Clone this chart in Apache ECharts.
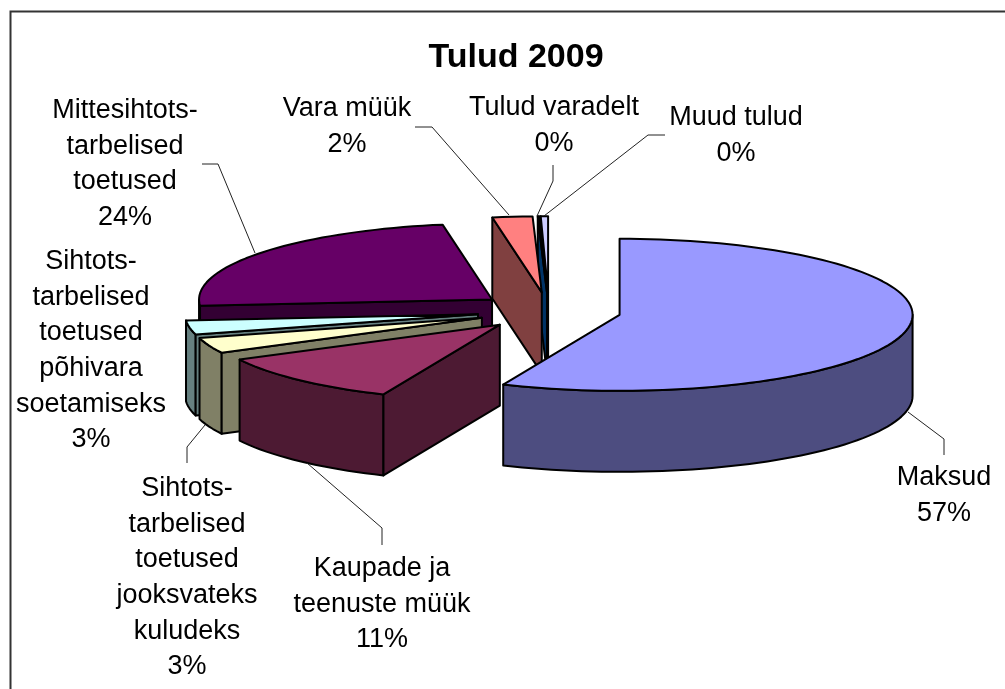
<!DOCTYPE html>
<html>
<head>
<meta charset="utf-8">
<title>Tulud 2009</title>
<style>
  html, body { margin: 0; padding: 0; background: #fff; }
  #chart { width: 1005px; height: 689px; }
</style>
<script src="https://cdn.jsdelivr.net/npm/echarts@6/dist/echarts.min.js"></script>
</head>
<body>
<div id="chart"></div>
<script>
// values, % of the total
let categories = [
  "Maksud",
  "Kaupade ja\nteenuste müük",
  "Sihtots-\ntarbelised\ntoetused\njooksvateks\nkuludeks",
  "Sihtots-\ntarbelised\ntoetused\npõhivara\nsoetamiseks",
  "Mittesihtots-\ntarbelised\ntoetused",
  "Vara müük",
  "Tulud varadelt",
  "Muud tulud"
];
let values = [56.5, 10.9, 3.3, 3.0, 23.6, 2.2, 0.1, 0.4];
let topColors = ["#9999ff", "#993366", "#ffffcc", "#ccffff", "#660066", "#ff8080", "#0066cc", "#ccccff"];
let sideColors = ["#4d4d80", "#4d1a33", "#808066", "#668080", "#330033", "#804040", "#003366", "#666680"];

// label centre + first line y, then the leader line
let labelX = [944, 382, 187, 91, 125, 347, 554, 736];
let labelY = [476, 567, 487, 260, 109, 107, 106, 116];
let leaders = [
  [[908, 412], [944, 439], [944, 455]],
  [[307, 463], [382, 528], [382, 545]],
  [[205, 425], [187, 447], [187, 463]],
  [],
  [[202, 164], [218, 164], [255, 253]],
  [[415, 127], [432, 127], [509, 215]],
  [[553, 165], [553, 181], [537, 216]],
  [[665, 135], [648, 135], [544, 216]]
];

// the tilted pie
let pieX = 549, pieY = 311, radX = 293, radY = 76, depth = 81, explode = 0.246;

let total = values.reduce(function(a, b) { return a + b; }, 0);
let slices = [];
let acc = 0;
values.forEach(function(v, i) {
  let start = (acc / total) * 360;
  acc += v;
  let end = (acc / total) * 360;
  let mid = ((start + end) / 2) * Math.PI / 180;
  slices.push({
    index: i,
    start: start,
    end: end,
    cx: pieX + Math.sin(mid) * explode * radX,
    cy: pieY - Math.cos(mid) * explode * radY
  });
});

// back slices get painted first
let drawOrder = slices.slice().sort(function(a, b) { return a.cy - b.cy; });

function rimPoint(s, deg, drop) {
  let r = deg * Math.PI / 180;
  return [s.cx + Math.sin(r) * radX, s.cy - Math.cos(r) * radY + drop];
}

function arcPoints(s, from, to, drop) {
  let pts = [];
  let steps = Math.max(1, Math.ceil((to - from) / 2));
  for (let k = 0; k <= steps; k++) {
    pts.push(rimPoint(s, from + ((to - from) * k) / steps, drop));
  }
  return pts;
}

function face(points, color) {
  return {
    type: "polygon",
    shape: { points: points },
    style: { fill: color, stroke: "#000", lineWidth: 2, lineJoin: "round" }
  };
}

function renderSlice(params, api) {
  let s = slices[api.value(0)];
  let side = sideColors[s.index];
  let children = [];

  // rim is only seen on the front half
  let wallFrom = Math.max(s.start, 90);
  let wallTo = Math.min(s.end, 270);
  if (wallTo > wallFrom) {
    let upper = arcPoints(s, wallFrom, wallTo, 0);
    let lower = arcPoints(s, wallFrom, wallTo, depth).reverse();
    children.push(face(upper.concat(lower), side));
  }

  // cut faces
  if (Math.sin(s.start * Math.PI / 180) < -1e-6) {
    let p = rimPoint(s, s.start, 0);
    children.push(face([[s.cx, s.cy], p, [p[0], p[1] + depth], [s.cx, s.cy + depth]], side));
  }
  if (Math.sin(s.end * Math.PI / 180) > 1e-6) {
    let q = rimPoint(s, s.end, 0);
    children.push(face([[s.cx, s.cy], q, [q[0], q[1] + depth], [s.cx, s.cy + depth]], side));
  }

  children.push(face([[s.cx, s.cy]].concat(arcPoints(s, s.start, s.end, 0)), topColors[s.index]));
  return { type: "group", children: children };
}

function renderLabel(params, api) {
  let i = api.value(0);
  let children = [];
  if (leaders[i].length) {
    children.push({
      type: "polyline",
      shape: { points: leaders[i] },
      style: { fill: "none", stroke: "#222", lineWidth: 1 }
    });
  }
  children.push({
    type: "text",
    style: {
      text: categories[i] + "\n" + Math.round((values[i] / total) * 100 + 1e-9) + "%",
      x: labelX[i],
      y: labelY[i] - 16,
      fill: "#000",
      font: '27px "Liberation Sans", Arial, sans-serif',
      lineHeight: 35.6,
      align: "center",
      verticalAlign: "top"
    }
  });
  return { type: "group", children: children };
}

let chart = echarts.init(document.getElementById("chart"), null, { renderer: "canvas" });
chart.setOption({
  animation: false,
  backgroundColor: "#fff",
  title: {
    text: "Tulud 2009",
    left: 511,
    top: 36,
    textAlign: "center",
    textStyle: {
      fontFamily: '"Liberation Sans", Arial, sans-serif',
      fontSize: 34,
      fontWeight: "bold",
      color: "#000"
    }
  },
  graphic: [
    {
      type: "polyline",
      shape: { points: [[10.5, 689], [10.5, 11.5], [1005, 11.5]] },
      style: { fill: "none", stroke: "#333", lineWidth: 2 }
    }
  ],
  series: [
    {
      type: "custom",
      coordinateSystem: "none",
      renderItem: renderSlice,
      data: drawOrder.map(function(s) { return [s.index]; }),
      silent: true
    },
    {
      type: "custom",
      coordinateSystem: "none",
      renderItem: renderLabel,
      data: categories.map(function(c, i) { return [i]; }),
      silent: true,
      z: 3
    }
  ]
});
</script>
</body>
</html>
